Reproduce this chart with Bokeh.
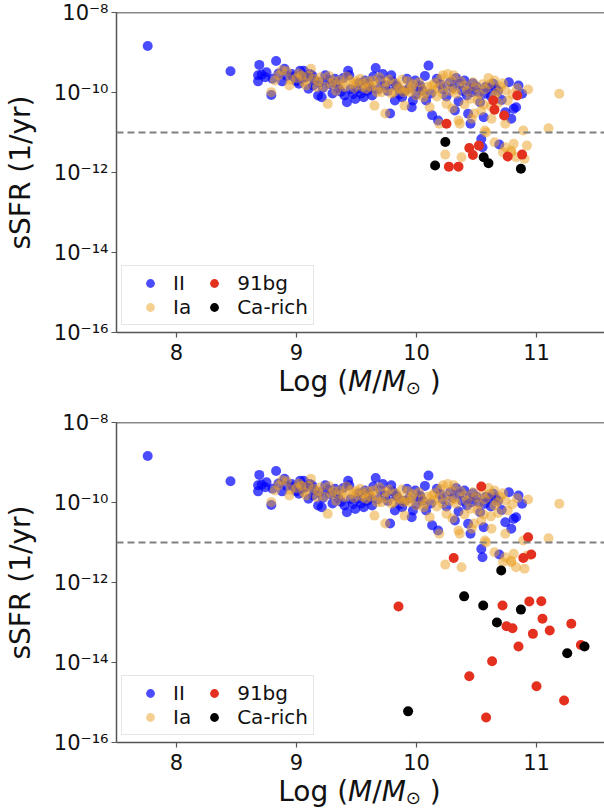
from bokeh.plotting import figure
from bokeh.models import (Range1d, FixedTicker, CustomJSTickFormatter, Span, Legend,
                          LegendItem, Div)
from bokeh.layouts import column
from bokeh.embed import file_html
from bokeh.resources import INLINE

# ---------------- data: (log stellar mass, sSFR [1/yr]) ----------------
ii_points = [
    (7.76, 1.45e-9), (8.45, 3.4e-10), (8.69, 4.9e-10), (8.83, 6.1e-10), (8.68, 2.7e-10),
    (8.71, 2.8e-10), (8.68, 1.9e-10), (8.74, 2.4e-10), (8.79, 8.7e-11), (8.85, 3.0e-10),
    (8.90, 3.9e-10), (8.88, 1.9e-10), (8.96, 2.9e-10), (9.03, 3.5e-10), (9.02, 1.65e-10),
    (9.06, 3.5e-10), (9.11, 2.9e-10), (9.13, 2.7e-10), (9.24, 2.7e-10), (9.10, 1.24e-10),
    (9.18, 8.4e-11), (9.21, 7.6e-11), (9.32, 2.2e-10), (9.43, 3.5e-10), (9.44, 2.7e-10),
    (9.40, 8.4e-11), (9.42, 5.7e-11), (9.51, 1.24e-10), (9.49, 6.9e-11), (9.57, 2.0e-10),
    (9.56, 7.6e-11), (9.59, 1.1e-10), (9.66, 4.1e-10), (9.72, 2.9e-10), (9.79, 2.7e-10),
    (9.63, 8.4e-11), (9.74, 1.5e-10), (9.78, 3.0e-11), (9.83, 1.5e-10), (9.84, 1.35e-10),
    (9.82, 6.3e-11), (9.88, 7.6e-11), (9.97, 6.3e-11), (9.96, 4.3e-11), (10.02, 1.35e-10),
    (10.03, 1.5e-10), (10.10, 4.7e-10), (10.17, 2.2e-10), (10.08, 6.3e-11), (10.13, 2.7e-11),
    (10.18, 2.0e-11), (10.36, 1.65e-10), (10.42, 8.4e-11), (10.32, 3.55e-11), (10.43, 2.95e-11),
    (10.46, 1.02e-10), (10.56, 2.4e-11), (10.57, 9.3e-11), (10.64, 1.65e-10), (10.60, 1.24e-10),
    (10.77, 1.8e-10), (10.74, 3.2e-11), (10.81, 3.9e-11), (10.83, 4.3e-11), (10.79, 2.2e-11),
    (10.88, 9.3e-11), (10.54, 6.9e-12), (10.55, 4.3e-12), (10.69, 5.0e-12), (10.45, 1.65e-11),
    (10.53, 5.7e-11), (9.28, 1.6e-10), (9.35, 1.3e-10), (9.60, 1.6e-10), (9.90, 1.1e-10),
    (10.00, 9.0e-11), (10.22, 1.2e-10), (10.28, 1.8e-10), (10.50, 1.4e-10), (10.62, 8.0e-11),
    (9.15, 2.0e-10), (9.05, 2.2e-10), (8.97, 2.5e-10), (10.35, 6.0e-11), (10.40, 2.0e-10),
    (9.70, 2.0e-10), (9.92, 2.2e-10), (10.68, 1.1e-10),
    (8.75, 3.2e-10), (8.80, 2.2e-10), (8.92, 2.6e-10), (9.00, 1.9e-10), (9.08, 2.4e-10),
    (9.14, 1.5e-10), (9.19, 1.8e-10), (9.22, 1.3e-10), (9.26, 2.1e-10), (9.30, 9.5e-11),
    (9.33, 1.7e-10), (9.37, 1.05e-10), (9.39, 2.3e-10), (9.45, 1.2e-10), (9.47, 9.0e-11),
    (9.52, 1.7e-10), (9.54, 9.5e-11), (9.61, 1.3e-10), (9.64, 2.5e-10), (9.68, 1.2e-10),
    (9.76, 1.1e-10), (9.80, 1.9e-10), (9.86, 9.0e-11), (9.94, 1.3e-10), (9.99, 2.0e-10),
    (10.05, 1.1e-10), (10.07, 2.6e-10), (10.12, 9.5e-11), (10.20, 1.6e-10), (10.25, 8.0e-11),
    (10.30, 1.3e-10), (10.33, 2.3e-10), (10.38, 1.1e-10), (10.44, 1.3e-10), (10.47, 1.7e-10),
    (10.52, 1.0e-10), (10.58, 1.4e-10), (10.66, 1.3e-10), (10.71, 6.5e-11), (10.85, 1.5e-10),
]
ia_points = [
    (8.79, 1.02e-10), (8.92, 3.4e-10), (8.94, 1.5e-10), (9.00, 2.3e-10), (9.12, 3.9e-10),
    (9.06, 1.8e-10), (9.17, 1.35e-10), (9.26, 5.2e-11), (9.29, 1.65e-10), (9.36, 2.0e-10),
    (9.40, 1.35e-10), (9.47, 1.65e-10), (9.45, 2.0e-10), (9.56, 1.65e-10), (9.58, 1.24e-10),
    (9.64, 2.0e-10), (9.67, 1.02e-10), (9.65, 4.7e-11), (9.71, 1.02e-10), (9.74, 3.0e-11),
    (9.79, 9.3e-11), (9.81, 1.02e-10), (9.88, 2.1e-10), (9.89, 1.02e-10), (9.90, 4.7e-11),
    (9.92, 1.12e-10), (9.94, 1.02e-10), (10.00, 8.4e-11), (10.13, 1.5e-10), (10.15, 1.7e-10),
    (10.07, 9.3e-11), (10.11, 4.3e-11), (10.22, 2.7e-10), (10.26, 2.9e-10), (10.22, 9.3e-11),
    (10.25, 5.2e-11), (10.24, 2.8e-12), (10.31, 2.7e-10), (10.33, 9.3e-11), (10.35, 2.0e-11),
    (10.49, 1.35e-10), (10.51, 6.3e-11), (10.54, 3.55e-11), (10.46, 2.2e-11), (10.36, 1.65e-11),
    (10.19, 1.65e-11), (10.65, 2.0e-10), (10.65, 8.4e-11), (10.74, 1.12e-10), (10.84, 1.28e-10),
    (10.93, 1.19e-10), (10.76, 6.3e-11), (11.19, 9.3e-11), (11.10, 1.28e-11), (10.89, 1.12e-11),
    (10.57, 1.12e-11), (10.58, 1.0e-11), (10.375, 2.4e-12), (10.65, 5.7e-12), (10.81, 5.2e-12),
    (10.74, 4.3e-12), (10.92, 4.7e-12), (10.79, 3.2e-12), (10.83, 2.4e-12), (10.90, 2.2e-12),
    (10.72, 3.2e-12), (10.79, 3.5e-12), (10.625, 2.2e-11), (10.74, 1.65e-11), (9.20, 2.4e-10),
    (9.33, 1.1e-10), (9.50, 1.9e-10), (9.62, 1.4e-10), (9.75, 1.8e-10), (9.85, 1.3e-10),
    (9.97, 1.6e-10), (10.05, 1.2e-10), (10.18, 1.3e-10), (10.28, 1.1e-10), (10.40, 1.5e-10),
    (10.45, 7.0e-11), (10.55, 1.6e-10), (10.60, 2.3e-10), (10.70, 1.4e-10), (9.10, 2.6e-10),
    (9.02, 3.0e-10), (8.85, 2.7e-10), (10.30, 4.0e-11), (10.48, 3.0e-11), (10.62, 4.5e-11),
    (8.82, 2.0e-10), (8.88, 3.6e-10), (8.95, 2.1e-10), (9.04, 2.6e-10), (9.08, 1.5e-10),
    (9.14, 2.2e-10), (9.18, 1.9e-10), (9.23, 1.4e-10), (9.27, 2.6e-10), (9.31, 1.9e-10),
    (9.38, 1.6e-10), (9.42, 2.5e-10), (9.48, 1.3e-10), (9.53, 2.2e-10), (9.55, 1.4e-10),
    (9.60, 1.9e-10), (9.66, 1.5e-10), (9.69, 2.4e-10), (9.73, 1.3e-10), (9.77, 2.1e-10),
    (9.83, 1.7e-10), (9.87, 1.2e-10), (9.93, 1.9e-10), (9.96, 1.3e-10), (10.02, 1.8e-10),
    (10.06, 7.5e-11), (10.09, 1.4e-10), (10.14, 1.1e-10), (10.17, 8.0e-11), (10.20, 2.2e-10),
    (10.24, 1.5e-10), (10.29, 2.0e-10), (10.32, 1.2e-10), (10.37, 1.9e-10), (10.42, 1.1e-10),
    (10.47, 1.8e-10), (10.52, 9.0e-11), (10.57, 1.2e-10), (10.61, 1.6e-10), (10.67, 1.0e-10),
    (10.72, 1.7e-10), (10.80, 9.0e-11), (10.68, 5.5e-11), (10.56, 5.0e-11), (10.40, 5.0e-11),
]

# upper panel: 91bg and Ca-rich
bg_top_points = [(10.25, 1.65e-11), (10.27, 1.4e-12), (10.35, 1.4e-12), (10.44, 4.1e-12),
                 (10.47, 2.75e-12), (10.52, 4.7e-12), (10.64, 6.3e-11), (10.65, 3.7e-11),
                 (10.73, 2.66e-11), (10.84, 8.4e-11), (10.76, 2.5e-12), (10.88, 2.8e-12)]
ca_top_points = [(10.155, 1.5e-12), (10.24, 5.8e-12), (10.56, 2.4e-12), (10.60, 1.7e-12),
                 (10.87, 1.24e-12)]

# lower panel: 91bg and Ca-rich
bg_bot_points = [(10.54, 2.5e-10), (10.93, 1.35e-11), (10.31, 4.1e-12), (10.89, 4.1e-12),
                 (10.956, 5.0e-12), (9.85, 2.5e-13), (10.717, 2.66e-13), (10.94, 3.35e-13),
                 (11.04, 3.4e-13), (10.75, 8.1e-14), (10.80, 7.2e-14), (11.05, 1.24e-13),
                 (10.97, 5.2e-14), (11.11, 6.3e-14), (11.29, 9.3e-14), (10.85, 2.5e-14),
                 (11.37, 2.75e-14), (10.63, 1.08e-14), (10.44, 4.55e-15), (11.00, 2.55e-15),
                 (11.23, 1.12e-15), (10.58, 4.2e-16)]
ca_bot_points = [(10.706, 2.0e-12), (10.397, 4.5e-13), (10.556, 2.66e-13), (10.87, 2.1e-13),
                 (10.67, 1.0e-13), (11.256, 1.7e-14), (11.40, 2.5e-14), (9.93, 6.0e-16)]

x_ticks = [8, 9, 10, 11]
y_ticks = [1e-16, 1e-14, 1e-12, 1e-10, 1e-8]
threshold = 1e-11
labels = ["II", "Ia", "91bg", "Ca-rich"]
x_label_html = ("Log (<i>M</i>/<i>M</i><sub style='font-size:18px;"
                "vertical-align:-3px;line-height:1'>\u2299</sub>&nbsp;)")
y_label = "sSFR (1/yr)"

FONT = "DejaVu Sans"
C_II = "#0000ff"
C_IA = "#e9a020"
C_BG = "#e3301f"
C_CA = "#000000"
TXT = "#111111"

X0, X1 = 7.5, 11.575


def xs(pts):
    return [a for a, b in pts]


def ys(pts):
    return [b for a, b in pts]


def make_panel(bg_pts, ca_pts):
    p = figure(frame_width=489, frame_height=320, y_axis_type="log",
               x_range=Range1d(X0, X1), y_range=Range1d(1e-16, 1e-8),
               output_backend="svg", toolbar_location=None,
               min_border_left=115, min_border_right=0, min_border_top=12,
               min_border_bottom=36)
    p.outline_line_color = None
    p.grid.visible = False
    p.background_fill_color = "white"
    p.border_fill_color = "white"

    r_ii = p.scatter(xs(ii_points), ys(ii_points), size=10, color=C_II, alpha=0.7, line_color=None)
    r_ia = p.scatter(xs(ia_points), ys(ia_points), size=10, color=C_IA, alpha=0.5, line_color=None)
    r_bg = p.scatter(xs(bg_pts), ys(bg_pts), size=10, color=C_BG, alpha=1.0, line_color=None)
    r_ca = p.scatter(xs(ca_pts), ys(ca_pts), size=10, color=C_CA, alpha=1.0, line_color=None)

    p.add_layout(Span(location=threshold, dimension="width", line_color="#808080",
                      line_width=2, line_dash="7 4"))
    p.add_layout(Span(location=1e-8, dimension="width", line_color="#111111", line_width=1.5))

    for ax in (p.xaxis[0], p.yaxis[0]):
        ax.axis_line_color = "#555555"
        ax.axis_line_width = 1.5
        ax.major_tick_line_color = "#555555"
        ax.major_tick_line_width = 1.2
        ax.major_tick_out = 5
        ax.major_tick_in = 0
        ax.minor_tick_line_color = None
        ax.major_label_text_font = FONT
        ax.major_label_text_font_size = "21px"
        ax.major_label_text_color = TXT

    p.xaxis.ticker = FixedTicker(ticks=x_ticks)
    p.xaxis.major_label_standoff = 6
    p.xaxis.axis_label = None

    p.yaxis.ticker = FixedTicker(ticks=y_ticks)
    p.yaxis.major_label_standoff = 3
    p.yaxis.formatter = CustomJSTickFormatter(code="""
        const e = Math.round(Math.log10(tick));
        const sup = {"-": "\u207b", "0": "\u2070", "1": "\u00b9", "2": "\u00b2", "3": "\u00b3",
                     "4": "\u2074", "5": "\u2075", "6": "\u2076", "7": "\u2077", "8": "\u2078",
                     "9": "\u2079"};
        let s = "10";
        for (const c of String(e)) { s += sup[c]; }
        return s;
    """)
    p.yaxis.axis_label = y_label
    p.yaxis.axis_label_text_font = FONT
    p.yaxis.axis_label_text_font_style = "normal"
    p.yaxis.axis_label_text_font_size = "28px"
    p.yaxis.axis_label_text_color = TXT
    p.yaxis.axis_label_standoff = 14

    legend = Legend(items=[LegendItem(label=labels[0], renderers=[r_ii]),
                           LegendItem(label=labels[1], renderers=[r_ia]),
                           LegendItem(label=labels[2], renderers=[r_bg]),
                           LegendItem(label=labels[3], renderers=[r_ca])],
                    location=(5, 7), ncols=2)
    legend.label_text_font = FONT
    legend.label_text_font_size = "20px"
    legend.label_text_color = TXT
    legend.glyph_width = 46
    legend.glyph_height = 22
    legend.label_standoff = 0
    legend.label_width = 17
    legend.label_height = 22
    legend.spacing = 0
    legend.padding = 5
    legend.margin = 0
    legend.border_line_color = "#cccccc"
    legend.border_line_width = 1
    legend.background_fill_alpha = 0.8
    p.add_layout(legend, "center")
    return p


def make_xlabel(h):
    return Div(text=x_label_html, width=489, height=h, margin=(0, 0, 0, 115),
               styles={"font-family": FONT, "font-size": "28px", "color": TXT,
                       "text-align": "center", "line-height": "1.0", "white-space": "nowrap",
                       "overflow": "visible"})


p1 = make_panel(bg_top_points, ca_top_points)
p2 = make_panel(bg_bot_points, ca_bot_points)

layout = column(p1, make_xlabel(42), p2, make_xlabel(33), spacing=0)
open("out.html", "w").write(file_html(layout, INLINE))
